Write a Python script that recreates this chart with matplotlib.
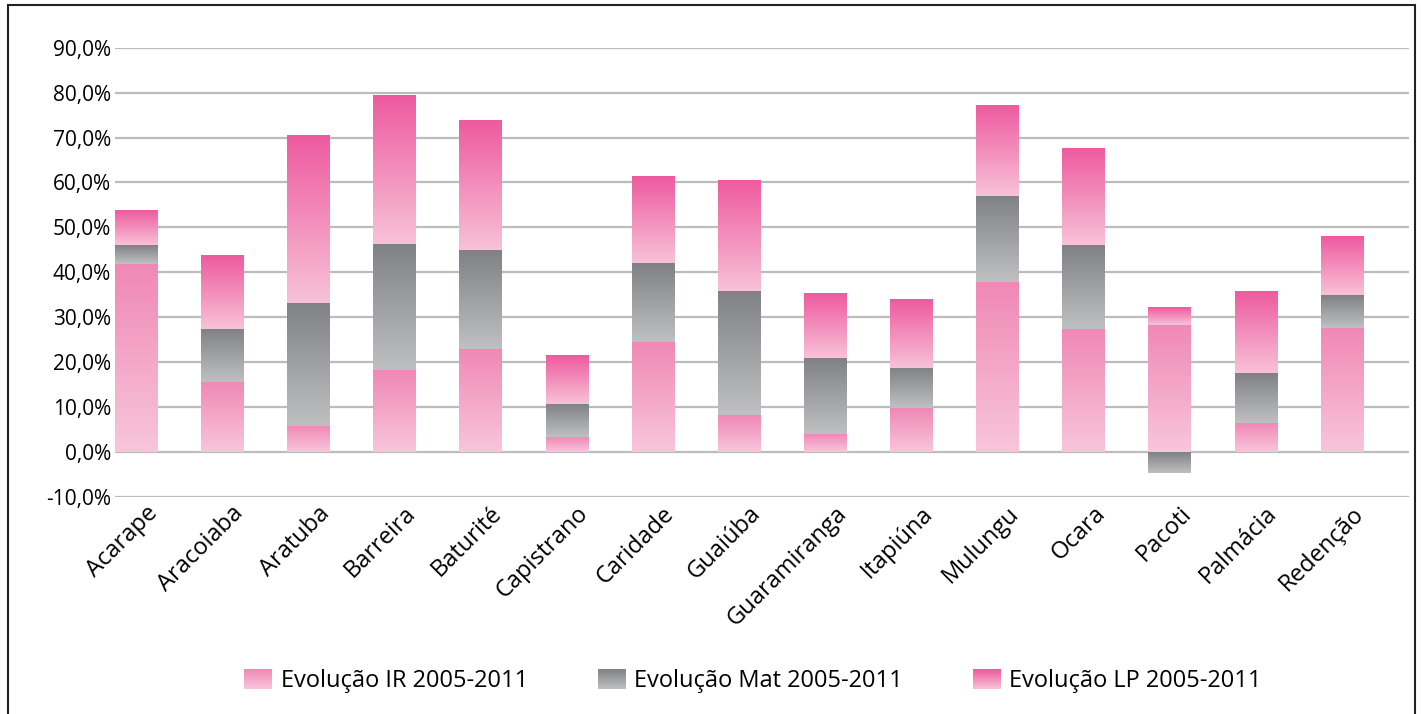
import numpy as np
import matplotlib
matplotlib.use("Agg")
import matplotlib.pyplot as plt
from matplotlib.colors import LinearSegmentedColormap
from matplotlib.legend_handler import HandlerBase
from matplotlib.image import BboxImage
from matplotlib.transforms import Bbox, TransformedBbox, ScaledTranslation
from matplotlib.patches import Rectangle

plt.rcParams["font.family"] = ["Open Sans", "DejaVu Sans"]

# dados por município (pontos percentuais)
cidades = ["Acarape", "Aracoiaba", "Aratuba", "Barreira", "Baturité",
           "Capistrano", "Caridade", "Guaiúba", "Guaramiranga", "Itapiúna",
           "Mulungu", "Ocara", "Pacoti", "Palmácia", "Redenção"]
evol_ir = [41.8, 15.7, 5.8, 18.2, 23.0, 3.3, 24.5, 8.2, 4.0, 9.7, 37.8, 27.4, 28.3, 6.4, 27.6]
evol_mat = [4.2, 11.8, 27.4, 28.1, 22.0, 7.5, 17.5, 27.6, 17.0, 9.1, 19.2, 18.6, -4.6, 11.1, 7.3]
evol_lp = [7.7, 16.4, 37.2, 33.0, 28.8, 10.9, 19.2, 24.5, 14.4, 15.2, 20.1, 21.4, 4.0, 18.1, 13.1]
yticks = [-10, 0, 10, 20, 30, 40, 50, 60, 70, 80, 90]
legendas = ["Evolução IR 2005-2011", "Evolução Mat 2005-2011", "Evolução LP 2005-2011"]

cmap_ir = LinearSegmentedColormap.from_list("ir", ["#f8c6db", "#f088b6"])
cmap_mat = LinearSegmentedColormap.from_list("mat", ["#bfc0c2", "#808184"])
cmap_lp = LinearSegmentedColormap.from_list("lp", ["#f8c2d8", "#ee5a9f"])

fig = plt.figure(figsize=(14.21, 7.14), dpi=100)
ax = fig.add_axes([115 / 1421, 1 - 497 / 714, (1409 - 115) / 1421, (497 - 47.7) / 714])

x = np.arange(len(cidades))
ir = np.array(evol_ir)
mat = np.array(evol_mat)
lp = np.array(evol_lp)
w = 0.49

base_mat = np.where(mat >= 0, ir, 0)
base_lp = ir + np.clip(mat, 0, None)

grad = np.linspace(0, 1, 256)[:, None]
for vals, base, cmap in [(ir, 0, cmap_ir), (mat, base_mat, cmap_mat), (lp, base_lp, cmap_lp)]:
    bars = ax.bar(x, vals, w, bottom=base, color="none", linewidth=0)
    for r in bars:
        y0, y1 = sorted([r.get_y(), r.get_y() + r.get_height()])
        ax.imshow(grad, cmap=cmap, origin="lower", aspect="auto", interpolation="bilinear",
                  extent=[r.get_x(), r.get_x() + r.get_width(), y0, y1], zorder=2)

ax.set_xlim(-0.244, 14.78)
ax.set_ylim(-10, 90)
ax.set_yticks(yticks)
ax.set_yticklabels([f"{v:.1f}%".replace(".", ",") for v in yticks], fontsize=15)
ax.yaxis.grid(True, color="#bcbcbc", linewidth=1.6)
ax.set_axisbelow(True)
ax.tick_params(axis="both", length=0, pad=3)
ax.set_xticks(x)
ax.set_xticklabels(cidades, fontsize=17, rotation=45, ha="right", va="center",
                   rotation_mode="anchor")
off = ScaledTranslation(18 / 100, -9 / 100, fig.dpi_scale_trans)
for lbl in ax.get_xticklabels():
    lbl.set_transform(lbl.get_transform() + off)
for s in ax.spines.values():
    s.set_visible(False)


class GradHandler(HandlerBase):
    def __init__(self, cmap):
        super().__init__()
        self.cmap = cmap

    def create_artists(self, legend, orig_handle, xdescent, ydescent, width, height, fontsize, trans):
        bb = TransformedBbox(Bbox.from_bounds(-xdescent, -ydescent, width, height), trans)
        img = BboxImage(bb, cmap=self.cmap, interpolation="bilinear", origin="lower")
        img.set_data(np.linspace(0, 1, 64)[:, None])
        return [img]


handles = [Rectangle((0, 0), 1, 1) for _ in legendas]
fig.legend(handles, legendas, loc="center", bbox_to_anchor=(0.53, 0.046), ncol=3, frameon=False,
           fontsize=17, handlelength=1.15, handleheight=0.9, handletextpad=0.4, columnspacing=2.95,
           handler_map={h: GradHandler(c) for h, c in zip(handles, [cmap_ir, cmap_mat, cmap_lp])})

fig.patches.append(Rectangle((8 / 1421, -0.1), (1415 - 8) / 1421, 1.093, transform=fig.transFigure,
                             fill=False, edgecolor="#222222", linewidth=1.5))

fig.savefig("out.png", dpi=100)
